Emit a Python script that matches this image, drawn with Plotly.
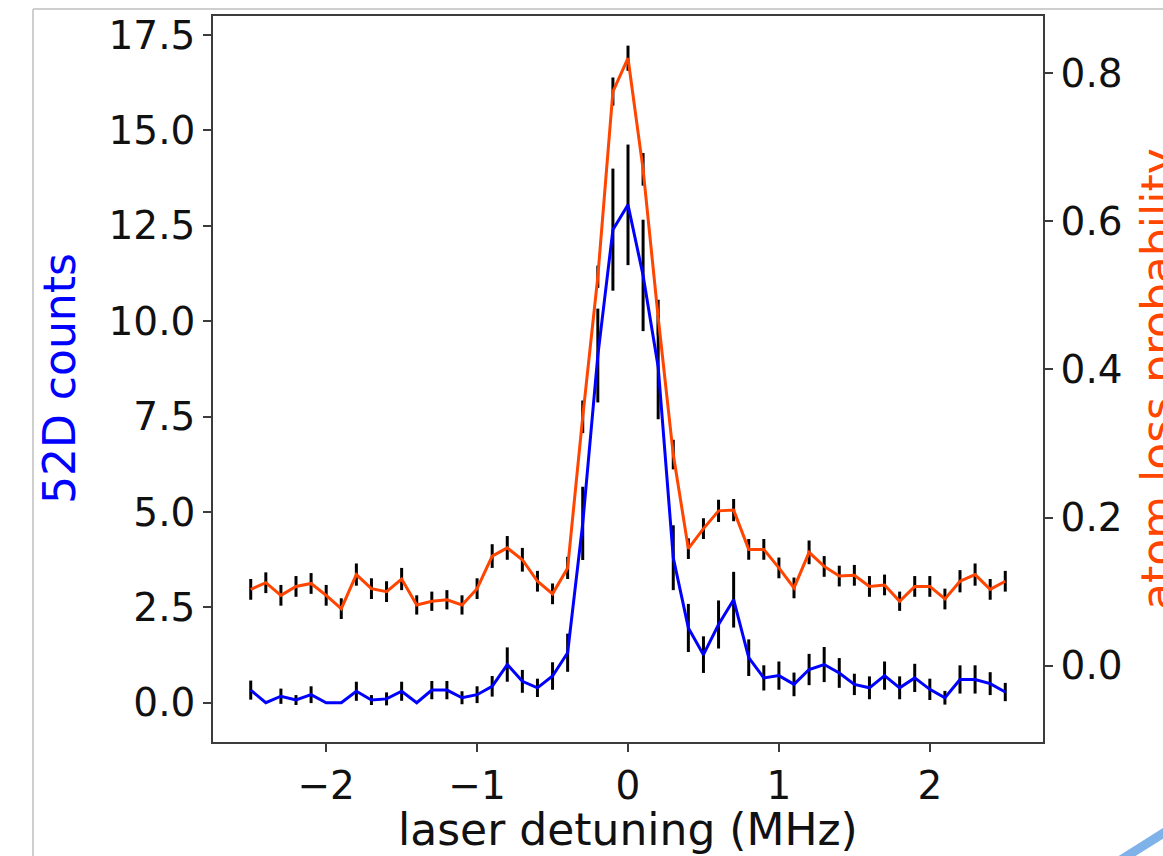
import plotly.graph_objects as go

# Laser detuning scan (MHz)
detuning = [-2.5, -2.4, -2.3, -2.2, -2.1, -2.0, -1.9, -1.8, -1.7, -1.6,
            -1.5, -1.4, -1.3, -1.2, -1.1, -1.0, -0.9, -0.8, -0.7, -0.6,
            -0.5, -0.4, -0.3, -0.2, -0.1, 0.0, 0.1, 0.2, 0.3, 0.4,
            0.5, 0.6, 0.7, 0.8, 0.9, 1.0, 1.1, 1.2, 1.3, 1.4,
            1.5, 1.6, 1.7, 1.8, 1.9, 2.0, 2.1, 2.2, 2.3, 2.4, 2.5]

# 52D ion counts and their uncertainties
counts = [0.33, 0.0, 0.17, 0.07, 0.21, 0.0, 0.0, 0.30, 0.07, 0.10,
          0.30, 0.0, 0.33, 0.33, 0.13, 0.21, 0.43, 1.00, 0.56, 0.39,
          0.70, 1.31, 4.70, 9.10, 12.40, 13.05, 11.20, 8.80, 3.80, 1.96,
          1.26, 2.05, 2.70, 1.18, 0.65, 0.71, 0.48, 0.87, 1.00, 0.78,
          0.48, 0.39, 0.71, 0.39, 0.65, 0.35, 0.13, 0.61, 0.61, 0.50, 0.28]
counts_err = [0.25, 0.0, 0.20, 0.13, 0.22, 0.0, 0.0, 0.25, 0.13, 0.17,
              0.25, 0.0, 0.24, 0.24, 0.17, 0.22, 0.27, 0.45, 0.30, 0.24,
              0.36, 0.50, 0.96, 1.23, 1.60, 1.58, 1.46, 1.37, 0.85, 0.63,
              0.48, 0.63, 0.73, 0.48, 0.33, 0.37, 0.31, 0.41, 0.46, 0.39,
              0.28, 0.30, 0.37, 0.30, 0.37, 0.28, 0.18, 0.37, 0.37, 0.30, 0.24]

# Atom loss probability and its uncertainty
loss = [0.103, 0.112, 0.095, 0.107, 0.111, 0.095, 0.077, 0.123, 0.104, 0.100,
        0.117, 0.082, 0.087, 0.089, 0.082, 0.104, 0.148, 0.159, 0.143, 0.114,
        0.097, 0.132, 0.336, 0.525, 0.775, 0.820, 0.670, 0.470, 0.285, 0.158,
        0.185, 0.209, 0.210, 0.157, 0.157, 0.132, 0.105, 0.153, 0.134, 0.121,
        0.122, 0.107, 0.109, 0.087, 0.107, 0.107, 0.090, 0.114, 0.123, 0.103, 0.114]
loss_err = [0.014, 0.014, 0.014, 0.014, 0.014, 0.014, 0.014, 0.015, 0.014, 0.014,
            0.015, 0.013, 0.013, 0.013, 0.013, 0.014, 0.016, 0.016, 0.016, 0.014,
            0.014, 0.015, 0.022, 0.015, 0.019, 0.017, 0.022, 0.024, 0.020, 0.014,
            0.014, 0.015, 0.015, 0.014, 0.014, 0.014, 0.014, 0.016, 0.014, 0.014,
            0.014, 0.014, 0.014, 0.013, 0.014, 0.014, 0.014, 0.015, 0.015, 0.014, 0.014]

x_ticks = [-2, -1, 0, 1, 2]
y_ticks = [0.0, 2.5, 5.0, 7.5, 10.0, 12.5, 15.0, 17.5]
y2_ticks = [0.0, 0.2, 0.4, 0.6, 0.8]

BLUE = "#0000ff"
ORANGE = "#ff4500"
FONT = "DejaVu Sans"
SPINE = "#3c3c3c"

# plot area in page pixels
W, H = 1163, 856
L, R, T, B = 213, 1043, 16, 742
PW, PH = R - L, B - T


def px(xp):
    return (xp - L) / PW


def py(yp):
    return (B - yp) / PH


fig = go.Figure()

fig.add_trace(go.Scatter(
    x=detuning, y=counts, mode="lines",
    line=dict(color=BLUE, width=3),
    error_y=dict(type="data", array=counts_err, visible=True,
                 color="black", thickness=3, width=0),
    yaxis="y", showlegend=False,
))
fig.add_trace(go.Scatter(
    x=detuning, y=loss, mode="lines",
    line=dict(color=ORANGE, width=3),
    error_y=dict(type="data", array=loss_err, visible=True,
                 color="black", thickness=3, width=0),
    yaxis="y2", showlegend=False,
))

tickfont = dict(family=FONT, size=39, color="#111111")

fig.update_layout(
    width=W, height=H,
    margin=dict(l=L, r=W - R, t=T, b=H - B, autoexpand=False),
    paper_bgcolor="white", plot_bgcolor="white",
    font=dict(family=FONT),
    xaxis=dict(
        range=[-2.75, 2.75], tickvals=x_ticks,
        ticks="outside", ticklen=8, tickwidth=1.5, tickcolor=SPINE,
        showline=True, linecolor=SPINE, linewidth=1.6, mirror=True,
        showgrid=False, zeroline=False, tickfont=tickfont,
    ),
    yaxis=dict(
        range=[-1.03, 18.0], tickvals=y_ticks, tickformat=".1f",
        ticks="outside", ticklen=8, tickwidth=1.5, tickcolor=SPINE,
        showline=True, linecolor=SPINE, linewidth=1.6, mirror=True,
        showgrid=False, zeroline=False, tickfont=tickfont,
    ),
    yaxis2=dict(
        range=[-0.103, 0.877], tickvals=y2_ticks, tickformat=".1f",
        overlaying="y", side="right",
        ticks="outside", ticklen=8, tickwidth=1.5, tickcolor=SPINE,
        showline=True, linecolor=SPINE, linewidth=1.6,
        showgrid=False, zeroline=False, tickfont=tickfont,
    ),
)

# axis titles
fig.add_annotation(text="52D counts", xref="paper", yref="paper",
                   x=px(59), y=0.5, xanchor="center", yanchor="middle",
                   textangle=-90, showarrow=False,
                   font=dict(family=FONT, size=44, color=BLUE))
fig.add_annotation(text="atom loss probability", xref="paper", yref="paper",
                   x=px(1157), y=0.5, xanchor="center", yanchor="middle",
                   textangle=-90, showarrow=False,
                   font=dict(family=FONT, size=44, color=ORANGE))
fig.add_annotation(text="laser detuning (MHz)", xref="paper", yref="paper",
                   x=0.5, y=py(829), xanchor="center", yanchor="middle",
                   showarrow=False,
                   font=dict(family=FONT, size=44, color="#111111"))

# slide frame around the figure
fig.add_shape(type="line", xref="paper", yref="paper",
              x0=px(33), x1=px(1170), y0=py(9), y1=py(9),
              line=dict(color="#cfcfcf", width=2), layer="below")
fig.add_shape(type="line", xref="paper", yref="paper",
              x0=px(33), x1=px(33), y0=py(9), y1=py(870),
              line=dict(color="#cfcfcf", width=2), layer="below")
# decorative arc in the lower right corner
fig.add_shape(type="path", xref="paper", yref="paper",
              path=f"M {px(1108)},{py(868)} Q {px(1140)},{py(848)} {px(1178)},{py(824)}",
              line=dict(color="#7fb2e8", width=9))

fig.write_html("out.html")
